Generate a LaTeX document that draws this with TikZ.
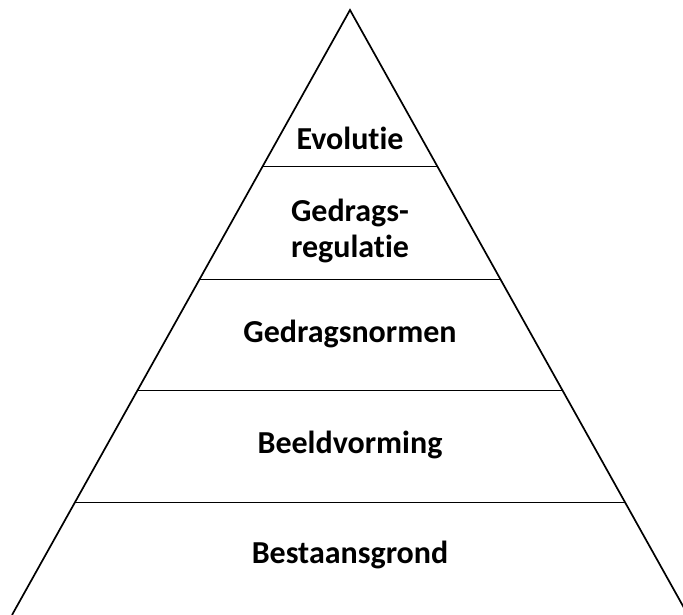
\documentclass[tikz,border=0pt]{standalone}
\usepackage{fontspec}
\setmainfont[Ligatures=NoCommon]{Carlito}
\usetikzlibrary{calc}

\begin{document}
\begin{tikzpicture}[
    x=1pt, y=-1pt,
    side/.style={line width=1.7pt, line join=miter},
    layer/.style={line width=0.9pt},
    every node/.style={font=\fontsize{32}{36}\selectfont\bfseries, align=center, inner sep=0pt}
]

\def\ax{350}
\def\ay{10}
\def\by{615}

% frame
\useasboundingbox (0,0) rectangle (683,615);
\clip (0,0) rectangle (683,615);

% corners
\coordinate (apex) at (\ax,\ay);
\coordinate (bl) at (12,\by);
\coordinate (br) at (688,\by);

% layer borders
\foreach \yy [count=\i] in {166,279,390,502} {
  \draw[layer] ($(apex)!{(\yy-\ay)/(\by-\ay)}!(bl)$) coordinate (l\i)
            -- ($(apex)!{(\yy-\ay)/(\by-\ay)}!(br)$) coordinate (r\i);
}

% sides
\draw[side] (bl) -- (apex) -- (br);

% labels
\node (evo) at (\ax,138) {Evolutie};
\node (reg) at (\ax,231) {Gedrags-\\regulatie};
\node (nor) at (\ax,334) {Gedragsnormen};
\node (bee) at (\ax,445) {Beeldvorming};
\node (bes) at (\ax,555) {Bestaansgrond};

\end{tikzpicture}
\end{document}
